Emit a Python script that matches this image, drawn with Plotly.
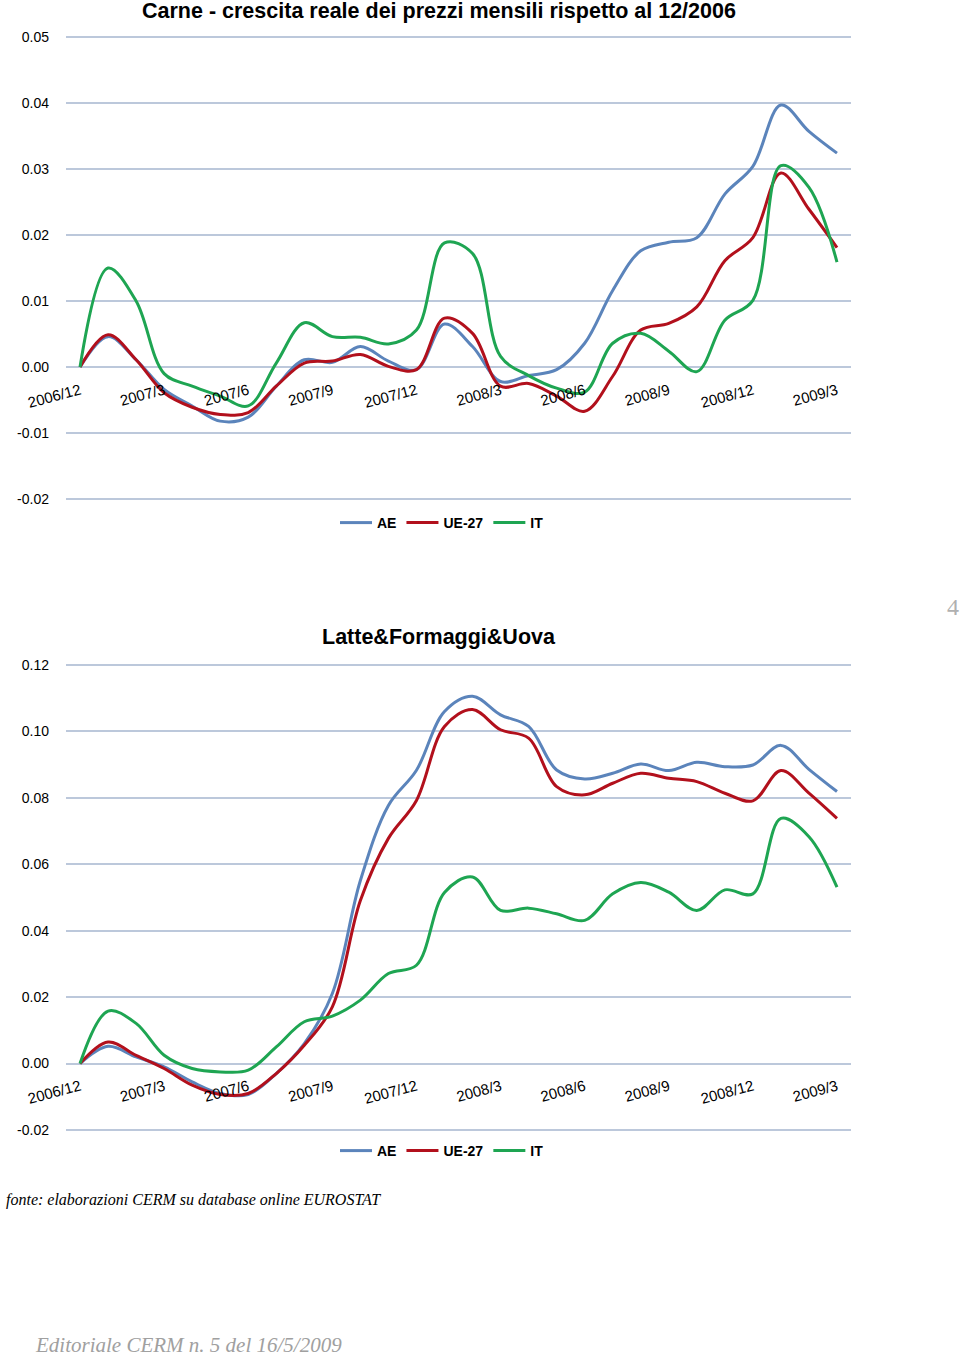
import plotly.graph_objects as go

W, H = 960, 1356

months = ["2006/12",
          "2007/1", "2007/2", "2007/3", "2007/4", "2007/5", "2007/6",
          "2007/7", "2007/8", "2007/9", "2007/10", "2007/11", "2007/12",
          "2008/1", "2008/2", "2008/3", "2008/4", "2008/5", "2008/6",
          "2008/7", "2008/8", "2008/9", "2008/10", "2008/11", "2008/12",
          "2009/1", "2009/2", "2009/3"]
tick_labels = months[::3]

# Carne
carne_ae = [0, 0.0046, 0.0011, -0.0034, -0.0059, -0.0082, -0.0076, -0.0029, 0.0011, 0.0007,
            0.0031, 0.0009, -0.0004, 0.0065, 0.0031, -0.0022, -0.0013, -0.0004, 0.0036, 0.0116,
            0.0176, 0.0189, 0.0196, 0.0262, 0.0304, 0.0397, 0.0357, 0.0324]
carne_ue27 = [0, 0.0049, 0.0011, -0.0039, -0.0061, -0.0072, -0.0069, -0.0029, 0.0006, 0.0009,
              0.0019, 0.0001, -0.0004, 0.0074, 0.0051, -0.0029, -0.0025, -0.0044, -0.0067, -0.0014,
              0.0056, 0.0066, 0.0091, 0.0161, 0.0196, 0.0294, 0.0239, 0.0181]
carne_it = [0, 0.0150, 0.0100, -0.0010, -0.0029, -0.0044, -0.0059, 0.0006, 0.0067, 0.0046,
            0.0045, 0.0035, 0.0056, 0.0188, 0.0172, 0.0016, -0.0013, -0.0032, -0.0038, 0.0036,
            0.0051, 0.0024, -0.0007, 0.0071, 0.0101, 0.0305, 0.0272, 0.0159]

# Latte&Formaggi&Uova
latte_ae = [0, 0.0052, 0.0020, -0.0010, -0.0055, -0.0090, -0.0093, -0.0030, 0.0060, 0.0211,
            0.0551, 0.0777, 0.0883, 0.1060, 0.1106, 0.1050, 0.1015, 0.0884, 0.0857, 0.0874,
            0.0902, 0.0882, 0.0907, 0.0894, 0.0899, 0.0958, 0.0886, 0.0819]
latte_ue27 = [0, 0.0065, 0.0025, -0.0015, -0.0065, -0.0093, -0.0090, -0.0030, 0.0055, 0.0171,
              0.0491, 0.0678, 0.0792, 0.1015, 0.1066, 0.1005, 0.0980, 0.0834, 0.0809, 0.0844,
              0.0874, 0.0859, 0.0849, 0.0814, 0.0791, 0.0882, 0.0814, 0.0738]
latte_it = [0, 0.0158, 0.0121, 0.0025, -0.0015, -0.0025, -0.0020, 0.0050, 0.0126, 0.0143,
            0.0191, 0.0271, 0.0296, 0.0515, 0.0562, 0.0461, 0.0468, 0.0451, 0.0431, 0.0511,
            0.0545, 0.0516, 0.0461, 0.0523, 0.0511, 0.0738, 0.0683, 0.0531]

series_names = ["AE", "UE-27", "IT"]
colors = ["#5b84bb", "#b2101c", "#1ea552"]

carne_yticks = [-0.02, -0.01, 0.00, 0.01, 0.02, 0.03, 0.04, 0.05]
latte_yticks = [-0.02, 0.00, 0.02, 0.04, 0.06, 0.08, 0.10, 0.12]

title1 = "Carne - crescita reale dei prezzi mensili rispetto al 12/2006"
title2 = "Latte&Formaggi&Uova"
source_text = "fonte: elaborazioni CERM su database online EUROSTAT"
footer_text = "Editoriale CERM n. 5 del 16/5/2009"
page_number = "4"

GRID = "#bcc8db"
FONT = "Liberation Sans"


def py(px):
    return 1 - px / H


fig = go.Figure()

for name, vals, col in zip(series_names, [carne_ae, carne_ue27, carne_it], colors):
    fig.add_trace(go.Scatter(x=months, y=vals, name=name, mode="lines",
                             line=dict(color=col, width=3, shape="spline", smoothing=1),
                             xaxis="x", yaxis="y", legend="legend"))
for name, vals, col in zip(series_names, [latte_ae, latte_ue27, latte_it], colors):
    fig.add_trace(go.Scatter(x=months, y=vals, name=name, mode="lines",
                             line=dict(color=col, width=3, shape="spline", smoothing=1),
                             xaxis="x2", yaxis="y2", legend="legend2"))

xdom = [66 / W, 851 / W]
common_x = dict(type="category", categoryorder="array", categoryarray=months,
                range=[-0.5, 27.5], domain=xdom, anchor="free", automargin=False,
                showgrid=False, zeroline=False, showline=False, ticks="",
                tickmode="array", tickvals=tick_labels, ticktext=tick_labels,
                tickangle=-15, tickfont=dict(family=FONT, size=15, color="black"),
                ticklabelstandoff=11)
common_y = dict(showgrid=True, gridcolor=GRID, gridwidth=1.6, zeroline=False, automargin=False,
                showline=False, ticks="", tickfont=dict(family=FONT, size=14, color="black"),
                ticklabelstandoff=16, tickmode="array")

# pad each value axis by 3 px so the outer grid lines are drawn
pad1 = 3 * 0.01 / 66.0
pad2 = 3 * 0.02 / 66.43

legend_style = dict(orientation="h", xanchor="left", yanchor="middle",
                    font=dict(family=FONT, size=14, color="black", weight="bold"),
                    bgcolor="rgba(0,0,0,0)", itemwidth=32)

fig.update_layout(
    width=W, height=H, autosize=False,
    margin=dict(l=0, r=0, t=0, b=0, pad=0, autoexpand=False),
    paper_bgcolor="white", plot_bgcolor="white",
    showlegend=True,
    xaxis=dict(**common_x, position=py(367.3)),
    yaxis=dict(**common_y, domain=[py(502), py(34)], range=[-0.02 - pad1, 0.05 + pad1],
               tickvals=carne_yticks, ticktext=[f"{v:.2f}" for v in carne_yticks]),
    xaxis2=dict(**common_x, position=py(1063.3)),
    yaxis2=dict(**common_y, domain=[py(1133), py(662)], range=[-0.02 - pad2, 0.12 + pad2],
                tickvals=latte_yticks, ticktext=[f"{v:.2f}" for v in latte_yticks]),
    legend=dict(**legend_style, x=335 / W, y=py(523)),
    legend2=dict(**legend_style, x=335 / W, y=py(1151)),
)

fig.add_annotation(text=f"<b>{title1}</b>", x=439 / W, y=py(-3), xref="paper", yref="paper",
                   xanchor="center", yanchor="top", showarrow=False,
                   font=dict(family=FONT, size=21.5, color="black"))
fig.add_annotation(text=f"<b>{title2}</b>", x=439 / W, y=py(637), xref="paper", yref="paper",
                   xanchor="center", yanchor="middle", showarrow=False,
                   font=dict(family=FONT, size=21.5, color="black"))
fig.add_annotation(text=f"<i>{source_text}</i>", x=4 / W, y=py(1200), xref="paper", yref="paper",
                   xanchor="left", yanchor="middle", showarrow=False,
                   font=dict(family="Liberation Serif", size=16, color="black"))
fig.add_annotation(text=f"<i>{footer_text}</i>", x=33 / W, y=py(1345), xref="paper", yref="paper",
                   xanchor="left", yanchor="middle", showarrow=False,
                   font=dict(family="Liberation Serif", size=21, color="#a0a0a0"))
fig.add_annotation(text=page_number, x=945 / W, y=py(607), xref="paper", yref="paper",
                   xanchor="left", yanchor="middle", showarrow=False,
                   font=dict(family="Liberation Serif", size=24, color="#b0b0b0"))

fig.write_html("out.html", config={"displayModeBar": False},
               post_script="document.body.style.margin='0';document.body.style.overflow='hidden';")
